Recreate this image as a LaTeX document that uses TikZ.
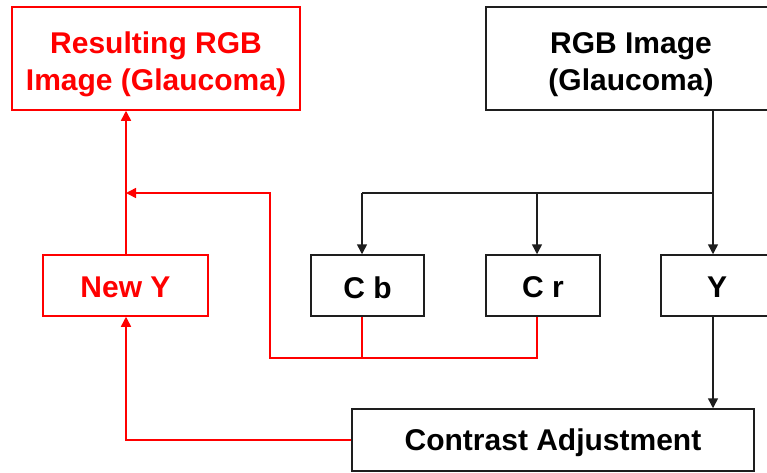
\documentclass[tikz,border=0pt]{standalone}
\usepackage{fontspec}
\setmainfont{Liberation Sans}
\usetikzlibrary{arrows.meta}
\definecolor{fred}{RGB}{255,0,0}
\definecolor{fblack}{RGB}{30,30,30}
\tikzset{
  box/.style={draw=fblack, line width=1.5pt, rectangle, inner sep=0pt},
  redbox/.style={box, draw=fred},
  txt/.style={align=center, inner sep=0pt, font=\fontsize{30}{37}\selectfont\bfseries, text=black},
  redtxt/.style={txt, text=fred},
  conn/.style={draw=fblack, line width=1.5pt},
  redconn/.style={draw=fred, line width=1.5pt},
  tip/.style={-{Triangle[length=10pt,width=10pt]}}
}
\begin{document}
\begin{tikzpicture}[x=1pt,y=-1pt]
\useasboundingbox (0,0) rectangle (767,472);
\clip (0,0) rectangle (767,472);
\fill[white] (0,0) rectangle (767,472);
% boxes
\node[redbox, minimum width=288pt, minimum height=103pt] (res) at (156,58.5) {};
\node[box, minimum width=290pt, minimum height=103pt] (rgb) at (631,58.5) {};
\node[redbox, minimum width=165pt, minimum height=61pt] (newy) at (125.5,285.5) {};
\node[box, minimum width=113pt, minimum height=61pt] (cb) at (367.5,285.5) {};
\node[box, minimum width=114pt, minimum height=61pt] (cr) at (543,285.5) {};
\node[box, minimum width=112pt, minimum height=61pt] (yy) at (717,285.5) {};
\node[box, minimum width=402pt, minimum height=62pt] (ca) at (553,440) {};
% texts
\node[redtxt] (restxt) at ([yshift=-6pt]res.center) {Resulting RGB\\Image (Glaucoma)};
\node[txt] (rgbtxt) at ([yshift=-6pt]rgb.center) {RGB Image\\(Glaucoma)};
\node[redtxt] (newytxt) at ([yshift=-2pt]newy.center) {New Y};
\node[txt] (cbtxt) at ([yshift=-2pt]cb.center) {C b};
\node[txt] (crtxt) at ([yshift=-2pt]cr.center) {C r};
\node[txt] (yytxt) at ([yshift=-2pt]yy.center) {Y};
\node[txt] (catxt) at ([yshift=-3pt]ca.center) {Contrast Adjustment};
% coordinates
\coordinate (split) at (713,193);
\coordinate (cbin) at (362,193);
\coordinate (crin) at (537,193);
\coordinate (merge) at (270,358);
\coordinate (join) at (126,193);
% black connectors
\draw[conn] (rgb.south -| split) -- (split) -- (cbin);
\draw[conn, tip] (cbin) -- (cb.north -| cbin);
\draw[conn, tip] (crin) -- (cr.north -| crin);
\draw[conn, tip] (split) -- (yy.north -| split);
\draw[conn, tip] (yy.south -| split) -- (ca.north -| split);
% red connectors
\draw[redconn] (cb.south -| cbin) -- (cbin |- merge);
\draw[redconn, tip] (cr.south -| crin) |- (merge) |- (join);
\draw[redconn, tip] (ca.west) -| (newy.south -| join);
\draw[redconn, tip] (newy.north -| join) -- (res.south -| join);
\end{tikzpicture}
\end{document}
